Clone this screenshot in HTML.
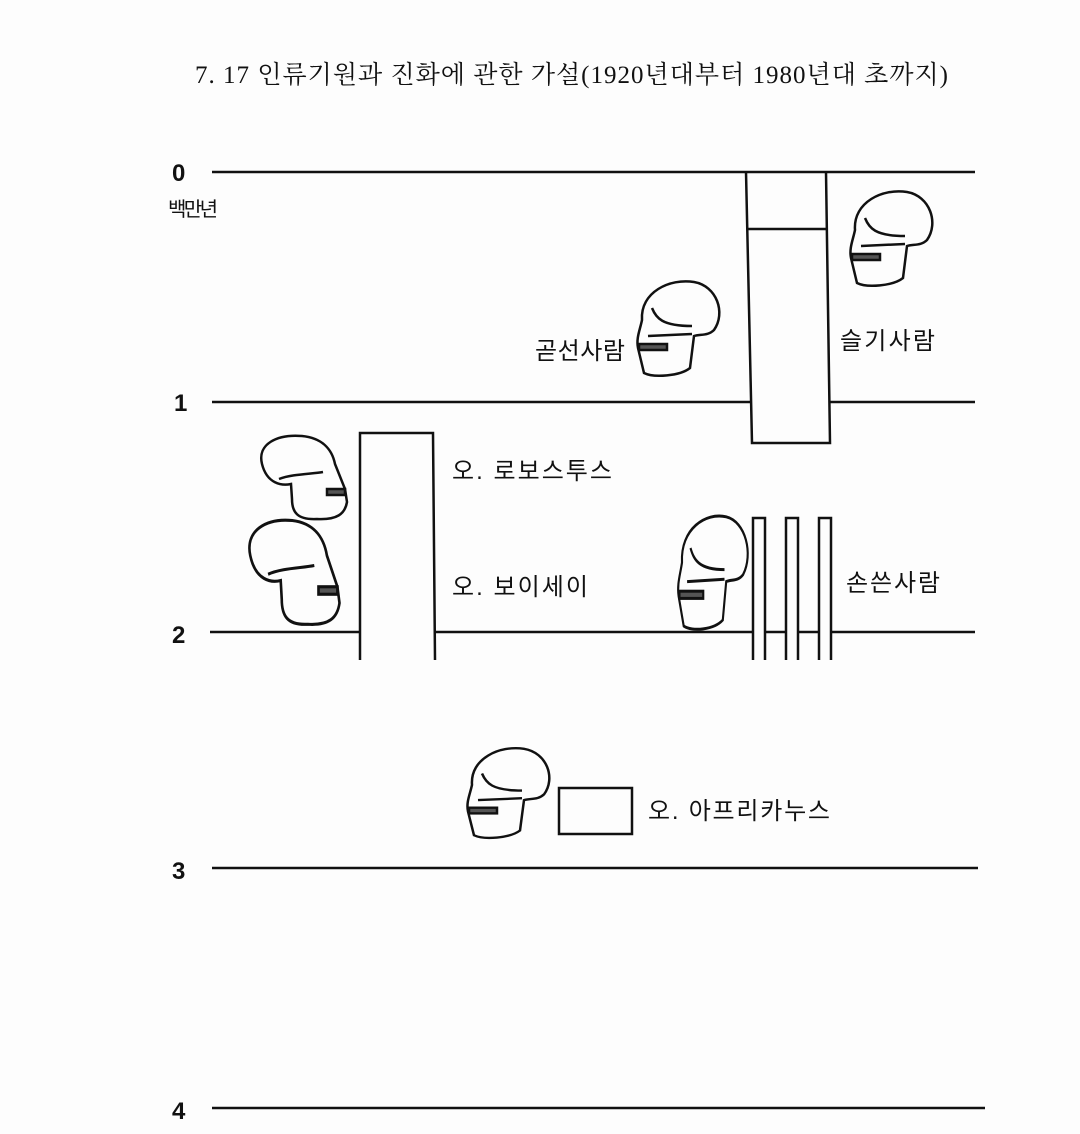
<!DOCTYPE html>
<html><head><meta charset="utf-8"><style>
body{margin:0;background:#fdfdfd;}
svg{display:block}
text{fill:#111}
.k{font-family:"Liberation Sans","Noto Sans CJK KR",sans-serif;font-size:24px}
.n{font-family:"Liberation Sans",sans-serif;font-size:24px;font-weight:bold}
</style></head><body>
<svg width="1080" height="1134" viewBox="0 0 1080 1134" xmlns="http://www.w3.org/2000/svg">
<defs>
<g id="sk" fill="none" stroke="#111" stroke-width="2.5">
<path d="M20,42 C18,14 48,0 72,4 C95,8 104,35 92,52 C86,58 78,56 72,58 L68,90 C58,98 32,100 22,95 L16,70 C14,60 18,52 20,42 Z"/>
<path d="M30,30 C34,40 40,48 70,48"/>
<path d="M26,58 L70,56"/>
<rect x="17" y="66" width="28" height="6" fill="#555"/>
</g>
<g id="rb" fill="none" stroke="#111" stroke-width="2.5">
<path d="M5,30 C0,10 20,0 45,2 C65,4 75,15 78,30 L88,55 L90,68 C88,80 80,86 60,85 C40,86 35,78 35,65 L34,50 C25,52 10,50 5,30 Z"/>
<path d="M22,45 C35,40 55,40 66,38"/>
<rect x="70" y="55" width="18" height="6" fill="#555"/>
</g>
</defs>
<text x="195" y="83" textLength="753" lengthAdjust="spacing" font-family="'Liberation Serif','Noto Serif CJK SC','Noto Sans CJK KR',serif" font-size="25">7. 17  인류기원과 진화에 관한 가설(1920년대부터 1980년대 초까지)</text>
<g stroke="#111" stroke-width="2.5" fill="none">
<line x1="212" y1="172" x2="975" y2="172"/>
<line x1="212" y1="402" x2="750" y2="402"/><line x1="830" y1="402" x2="975" y2="402"/>
<line x1="210" y1="632" x2="360" y2="632"/><line x1="435" y1="632" x2="753" y2="632"/>
<line x1="765" y1="632" x2="786" y2="632"/><line x1="798" y1="632" x2="819" y2="632"/><line x1="831" y1="632" x2="975" y2="632"/>
<line x1="212" y1="868" x2="978" y2="868"/>
<line x1="212" y1="1108" x2="985" y2="1108"/>
<path d="M746,172 L752,443 L830,443 L826,172"/>
<line x1="748" y1="229" x2="826" y2="229"/>
<path d="M360,660 L360,433 L433,433 L435,660"/>
<path d="M753,660 L753,518 L765,518 L765,660"/>
<path d="M786,660 L786,518 L798,518 L798,660"/>
<path d="M819,660 L819,518 L831,518 L831,660"/>
<rect x="559" y="788" width="73" height="46"/>
</g>
<use href="#sk" transform="translate(622,278)"/>
<use href="#sk" transform="translate(835,188)"/>
<use href="#sk" transform="translate(665,512) scale(0.85,1.2)"/>
<use href="#sk" transform="translate(452,745) scale(1,0.95)"/>
<use href="#rb" transform="translate(257,434)"/>
<use href="#rb" transform="translate(245,518) scale(1.05,1.25)"/>
<text class="n" x="172" y="181">0</text>
<text class="k" x="168" y="216" style="font-size:20px" textLength="50">백만년</text>
<text class="n" x="174" y="411">1</text>
<text class="n" x="172" y="643">2</text>
<text class="n" x="172" y="879">3</text>
<text class="n" x="172" y="1119">4</text>
<text class="k" x="535" y="359" textLength="90">곧선사람</text>
<text class="k" x="840" y="349" textLength="95">슬기사람</text>
<text class="k" x="452" y="479" textLength="160">오. 로보스투스</text>
<text class="k" x="452" y="595" textLength="136">오. 보이세이</text>
<text class="k" x="846" y="591" textLength="94">손쓴사람</text>
<text class="k" x="648" y="819" textLength="182">오. 아프리카누스</text>
</svg>
</body></html>
